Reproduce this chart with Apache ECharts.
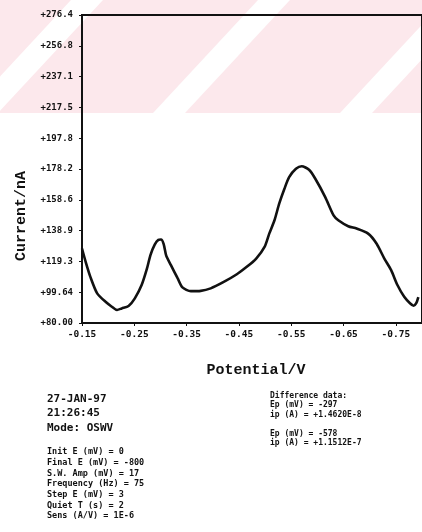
<!DOCTYPE html>
<html>
<head>
<meta charset="utf-8">
<script src="https://cdn.jsdelivr.net/npm/echarts@6/dist/echarts.min.js"></script>
<style>
  html, body { margin: 0; padding: 0; background: #ffffff; }
  #chart { width: 422px; height: 532px; }
</style>
</head>
<body>
<div id="chart"></div>
<script>
// Osteryoung square-wave voltammogram: potential (V) vs current (nA)
const potential = [
  -0.150, -0.157, -0.166, -0.179, -0.195, -0.207, -0.217, -0.226, -0.239, -0.251,
  -0.264, -0.274, -0.281, -0.289, -0.296, -0.301, -0.306, -0.311, -0.320, -0.333,
  -0.342, -0.358, -0.377, -0.396, -0.421, -0.446, -0.465, -0.483, -0.499, -0.508,
  -0.518, -0.527, -0.537, -0.546, -0.559, -0.570, -0.584, -0.596, -0.615, -0.631,
  -0.640, -0.659, -0.675, -0.697, -0.713, -0.728, -0.741, -0.753, -0.766, -0.777,
  -0.784, -0.789, -0.793
];
const current = [
  127.5, 119.0, 109.4, 98.9, 93.5, 90.4, 88.3, 89.3, 90.8, 95.7,
  104.2, 114.5, 123.5, 130.0, 133.0, 133.2, 130.5, 123.0, 116.9, 108.4,
  102.7, 100.3, 100.5, 102.1, 106.2, 111.1, 115.8, 121.1, 128.5, 137.0,
  145.5, 156.1, 165.6, 173.0, 178.3, 180.0, 177.7, 172.0, 160.3, 148.6,
  145.5, 141.7, 140.2, 137.0, 130.7, 121.1, 113.7, 104.2, 96.7, 92.6,
  91.0, 92.6, 96.5
];

// Axis ticks
const xTickValues = [-0.15, -0.25, -0.35, -0.45, -0.55, -0.65, -0.75];
const xTickLabels = ['-0.15', '-0.25', '-0.35', '-0.45', '-0.55', '-0.65', '-0.75'];
const yTickValues = [80.00, 99.64, 119.28, 138.92, 158.56, 178.20, 197.84, 217.48, 237.12, 256.76, 276.40];
const yTickLabels = ['+80.00', '+99.64', '+119.3', '+138.9', '+158.6', '+178.2', '+197.8', '+217.5', '+237.1', '+256.8', '+276.4'];

// Instrument run notes
const runInfo = ['27-JAN-97', '21:26:45', 'Mode: OSWV'];
const runParams = [
  'Init E (mV) = 0',
  'Final E (mV) = -800',
  'S.W. Amp (mV) = 17',
  'Frequency (Hz) = 75',
  'Step E (mV) = 3',
  'Quiet T (s) = 2',
  'Sens (A/V) = 1E-6'
];
const diffData = [
  'Difference data:',
  'Ep (mV) = -297',
  'ip (A) = +1.4620E-8',
  '',
  'Ep (mV) = -578',
  'ip (A) = +1.1512E-7'
];

function labelFor(values, labels, v) {
  let best = 0;
  for (let i = 1; i < values.length; i++) {
    if (Math.abs(values[i] - v) < Math.abs(values[best] - v)) best = i;
  }
  return labels[best];
}

const MONO = '"DejaVu Sans Mono", "Liberation Mono", monospace';
const SLAB = '"Liberation Mono", "DejaVu Sans Mono", monospace';
const INK = '#111111';

// Faint striped band behind the top of the plot
const stripeGraphics = [{
  type: 'rect', z: -10, silent: true,
  shape: { x: 0, y: 0, width: 422, height: 113 },
  style: { fill: '#fce8ec' }
}];
[-34, 153, 340].forEach(function (b) {
  stripeGraphics.push({
    type: 'polygon', z: -9, silent: true,
    shape: { points: [[b, 113], [b + 32, 113], [b + 137, 0], [b + 105, 0]] },
    style: { fill: '#ffffff' }
  });
});

function textBlock(lines, x, y, lineH, size, weight) {
  return lines.map(function (t, i) {
    return {
      type: 'text', silent: true,
      x: x, y: y + i * lineH,
      style: { text: t, fill: INK, font: weight + ' ' + size + 'px ' + MONO, textVerticalAlign: 'middle' }
    };
  });
}

// Rotated current label, set a little below the plot's middle
const yTitle = {
  type: 'text', silent: true,
  x: 21, y: 216, rotation: Math.PI / 2,
  style: {
    text: 'Current/nA', fill: INK,
    font: 'bold 15px ' + SLAB,
    textAlign: 'center', textVerticalAlign: 'middle'
  }
};

const chart = echarts.init(document.getElementById('chart'), null, { renderer: 'canvas' });
chart.setOption({
  animation: false,
  backgroundColor: '#ffffff',
  graphic: stripeGraphics
    .concat([yTitle])
    .concat(textBlock(runInfo, 47, 399, 14.5, 11, 'bold'))
    .concat(textBlock(runParams, 47, 452, 10.7, 8.5, 'bold'))
    .concat(textBlock(diffData, 270, 396, 9.4, 8, 'bold')),
  grid: {
    left: 82, top: 15, width: 346, height: 308,
    show: true, borderColor: INK, borderWidth: 2, backgroundColor: 'transparent'
  },
  xAxis: {
    type: 'value',
    inverse: true,
    min: -0.80, max: -0.15,
    name: 'Potential/V',
    nameLocation: 'middle',
    nameGap: 40,
    nameTextStyle: { fontFamily: SLAB, fontWeight: 'bold', fontSize: 15, color: INK, padding: [0, 0, 0, 8] },
    axisLine: { show: true, onZero: false, lineStyle: { color: INK, width: 2 } },
    axisTick: { show: true, length: 3, customValues: xTickValues, lineStyle: { color: INK, width: 1 } },
    axisLabel: {
      customValues: xTickValues,
      margin: 7,
      fontFamily: MONO, fontWeight: 'bold', fontSize: 9.5, color: INK,
      formatter: function (v) { return labelFor(xTickValues, xTickLabels, v); }
    },
    splitLine: { show: false }
  },
  yAxis: {
    type: 'value',
    min: 80, max: 276.4,
    axisLine: { show: true, onZero: false, lineStyle: { color: INK, width: 2 } },
    axisTick: { show: true, length: 3, customValues: yTickValues, lineStyle: { color: INK, width: 1 } },
    axisLabel: {
      customValues: yTickValues,
      margin: 9,
      fontFamily: MONO, fontWeight: 'bold', fontSize: 9, color: INK,
      formatter: function (v) { return labelFor(yTickValues, yTickLabels, v); }
    },
    splitLine: { show: false }
  },
  series: [{
    type: 'line',
    data: potential.map(function (e, i) { return [e, current[i]]; }),
    smooth: 0.25,
    showSymbol: false,
    clip: true,
    lineStyle: { color: INK, width: 2.6 }
  }]
});
</script>
</body>
</html>
